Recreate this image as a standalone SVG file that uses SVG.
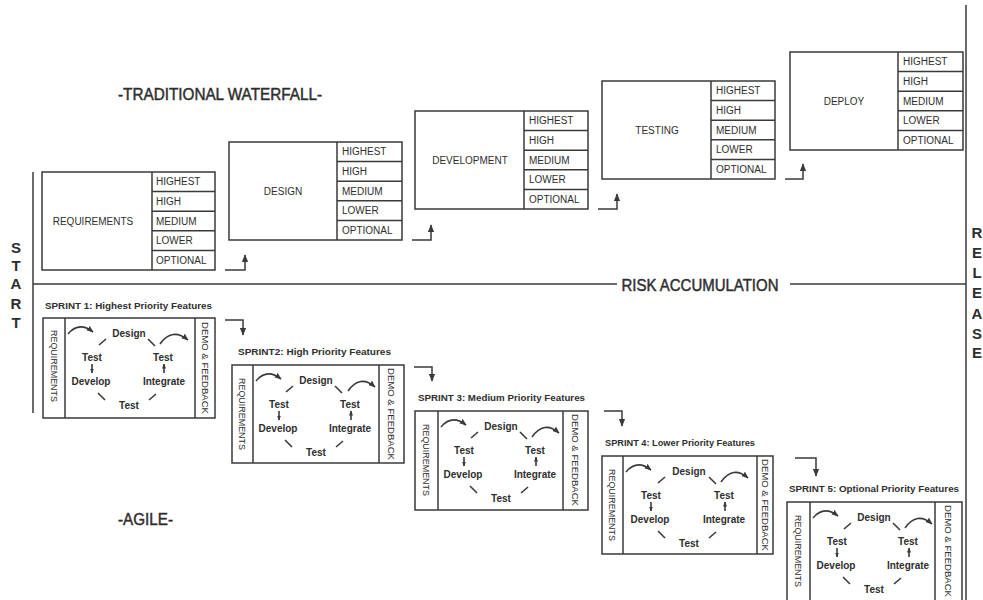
<svg xmlns="http://www.w3.org/2000/svg" width="983" height="600" viewBox="0 0 983 600">
<style>
.bg{fill:#ffffff}
.ln{fill:none;stroke:#3a3a3a;stroke-width:1.5}
.bx{fill:#ffffff;stroke:#3a3a3a;stroke-width:1.5}
.t{font-family:"Liberation Sans",Arial,sans-serif;fill:#2e2e2e}
.lab{font-size:10px}
.pr{font-size:10px}
.big{font-size:16px;stroke:#2e2e2e;stroke-width:0.45}
.sp{font-size:9px;font-weight:bold}
.st{font-size:10px;font-weight:bold;text-anchor:middle}
.vt{font-size:9px;text-anchor:middle}
.side{font-size:15px;font-weight:bold;text-anchor:middle}
.cn{fill:none;stroke:#3a3a3a;stroke-width:1.5}
.dash{fill:none;stroke:#3a3a3a;stroke-width:1.6}
</style>
<defs>
<marker id="ah" viewBox="0 0 10 10" refX="9" refY="5" markerWidth="8" markerHeight="8" markerUnits="userSpaceOnUse" orient="auto"><path d="M0,1 L10,5 L0,9 z" fill="#3a3a3a"/></marker>
<marker id="ahs" viewBox="0 0 10 10" refX="9" refY="5" markerWidth="7" markerHeight="7" markerUnits="userSpaceOnUse" orient="auto"><path d="M0,1 L10,5 L0,9 z" fill="#3a3a3a"/></marker>
<marker id="aht" viewBox="0 0 10 10" refX="9" refY="5" markerWidth="5" markerHeight="5" markerUnits="userSpaceOnUse" orient="auto"><path d="M0,1 L10,5 L0,9 z" fill="#3a3a3a"/></marker>
</defs>
<rect class="bg" x="0" y="0" width="983" height="600"/>

<g id="frame">
<line class="ln" x1="33" y1="172" x2="33" y2="413"/>
<line class="ln" x1="966" y1="5" x2="966" y2="600"/>
<line class="ln" x1="33" y1="284" x2="617" y2="284"/>
<line class="ln" x1="790" y1="284" x2="966" y2="284"/>
<text class="t big" x="700" y="291" text-anchor="middle" textLength="157" lengthAdjust="spacingAndGlyphs">RISK ACCUMULATION</text>
<text class="t big" x="118" y="100" textLength="204" lengthAdjust="spacingAndGlyphs">-TRADITIONAL WATERFALL-</text>
<text class="t big" x="118" y="525" textLength="55" lengthAdjust="spacingAndGlyphs">-AGILE-</text>
<g class="t side">
<text x="16" y="253">S</text>
<text x="16" y="271">T</text>
<text x="16" y="289">A</text>
<text x="16" y="309">R</text>
<text x="16" y="328">T</text>
<text x="977" y="238">R</text>
<text x="977" y="258">E</text>
<text x="977" y="278">L</text>
<text x="977" y="298">E</text>
<text x="977" y="319">A</text>
<text x="977" y="339">S</text>
<text x="977" y="358">E</text>
</g>
</g>

<g id="wf-requirements" transform="translate(42,172)">
<rect class="bx" x="0" y="0" width="173" height="98"/>
<line class="ln" x1="110" y1="0" x2="110" y2="98"/>
<line class="ln" x1="110" y1="19.6" x2="173" y2="19.6"/>
<line class="ln" x1="110" y1="39.2" x2="173" y2="39.2"/>
<line class="ln" x1="110" y1="58.8" x2="173" y2="58.8"/>
<line class="ln" x1="110" y1="78.4" x2="173" y2="78.4"/>
<text class="t lab" x="51" y="53" text-anchor="middle">REQUIREMENTS</text>
<text class="t pr" x="114" y="13.4">HIGHEST</text>
<text class="t pr" x="114" y="33">HIGH</text>
<text class="t pr" x="114" y="52.6">MEDIUM</text>
<text class="t pr" x="114" y="72.2">LOWER</text>
<text class="t pr" x="114" y="91.8">OPTIONAL</text>
</g>

<g id="wf-design" transform="translate(229,142)">
<rect class="bx" x="0" y="0" width="173" height="98"/>
<line class="ln" x1="108" y1="0" x2="108" y2="98"/>
<line class="ln" x1="108" y1="19.6" x2="173" y2="19.6"/>
<line class="ln" x1="108" y1="39.2" x2="173" y2="39.2"/>
<line class="ln" x1="108" y1="58.8" x2="173" y2="58.8"/>
<line class="ln" x1="108" y1="78.4" x2="173" y2="78.4"/>
<text class="t lab" x="54" y="53" text-anchor="middle">DESIGN</text>
<text class="t pr" x="113" y="13.4">HIGHEST</text>
<text class="t pr" x="113" y="33">HIGH</text>
<text class="t pr" x="113" y="52.6">MEDIUM</text>
<text class="t pr" x="113" y="72.2">LOWER</text>
<text class="t pr" x="113" y="91.8">OPTIONAL</text>
</g>

<g id="wf-development" transform="translate(415,111)">
<rect class="bx" x="0" y="0" width="173" height="98"/>
<line class="ln" x1="109" y1="0" x2="109" y2="98"/>
<line class="ln" x1="109" y1="19.6" x2="173" y2="19.6"/>
<line class="ln" x1="109" y1="39.2" x2="173" y2="39.2"/>
<line class="ln" x1="109" y1="58.8" x2="173" y2="58.8"/>
<line class="ln" x1="109" y1="78.4" x2="173" y2="78.4"/>
<text class="t lab" x="55" y="53" text-anchor="middle">DEVELOPMENT</text>
<text class="t pr" x="114" y="13.4">HIGHEST</text>
<text class="t pr" x="114" y="33">HIGH</text>
<text class="t pr" x="114" y="52.6">MEDIUM</text>
<text class="t pr" x="114" y="72.2">LOWER</text>
<text class="t pr" x="114" y="91.8">OPTIONAL</text>
</g>

<g id="wf-testing" transform="translate(602,81)">
<rect class="bx" x="0" y="0" width="173" height="98"/>
<line class="ln" x1="109" y1="0" x2="109" y2="98"/>
<line class="ln" x1="109" y1="19.6" x2="173" y2="19.6"/>
<line class="ln" x1="109" y1="39.2" x2="173" y2="39.2"/>
<line class="ln" x1="109" y1="58.8" x2="173" y2="58.8"/>
<line class="ln" x1="109" y1="78.4" x2="173" y2="78.4"/>
<text class="t lab" x="55" y="53" text-anchor="middle">TESTING</text>
<text class="t pr" x="114" y="13.4">HIGHEST</text>
<text class="t pr" x="114" y="33">HIGH</text>
<text class="t pr" x="114" y="52.6">MEDIUM</text>
<text class="t pr" x="114" y="72.2">LOWER</text>
<text class="t pr" x="114" y="91.8">OPTIONAL</text>
</g>

<g id="wf-deploy" transform="translate(790,52)">
<rect class="bx" x="0" y="0" width="173" height="98"/>
<line class="ln" x1="108" y1="0" x2="108" y2="98"/>
<line class="ln" x1="108" y1="19.6" x2="173" y2="19.6"/>
<line class="ln" x1="108" y1="39.2" x2="173" y2="39.2"/>
<line class="ln" x1="108" y1="58.8" x2="173" y2="58.8"/>
<line class="ln" x1="108" y1="78.4" x2="173" y2="78.4"/>
<text class="t lab" x="54" y="53" text-anchor="middle">DEPLOY</text>
<text class="t pr" x="113" y="13.4">HIGHEST</text>
<text class="t pr" x="113" y="33">HIGH</text>
<text class="t pr" x="113" y="52.6">MEDIUM</text>
<text class="t pr" x="113" y="72.2">LOWER</text>
<text class="t pr" x="113" y="91.8">OPTIONAL</text>
</g>

<g id="sprint1" transform="translate(43,318)">
<text class="t sp" x="2" y="-9" textLength="167" lengthAdjust="spacingAndGlyphs">SPRINT 1: Highest Priority Features</text>
<rect class="bx" x="0" y="0" width="172" height="100"/>
<line class="ln" x1="22" y1="0" x2="22" y2="100"/>
<line class="ln" x1="152" y1="0" x2="152" y2="100"/>
<text class="t vt" transform="translate(11,48) rotate(90)" y="3.3" textLength="72" lengthAdjust="spacingAndGlyphs">REQUIREMENTS</text>
<text class="t vt" transform="translate(162,50) rotate(90)" y="3.3" textLength="92" lengthAdjust="spacingAndGlyphs">DEMO &amp; FEEDBACK</text>
<path class="dash" d="M25,16 Q36,3 50,14" marker-end="url(#ahs)"/>
<path class="dash" d="M117,26 Q129,9 145,22" marker-end="url(#ahs)"/>
<text class="t st" x="86" y="19">Design</text>
<text class="t st" x="49" y="43">Test</text>
<text class="t st" x="120" y="43">Test</text>
<text class="t st" x="48" y="67">Develop</text>
<text class="t st" x="121" y="67">Integrate</text>
<text class="t st" x="86" y="91">Test</text>
<line class="dash" x1="56" y1="27" x2="63" y2="21"/>
<line class="dash" x1="105" y1="21" x2="112" y2="28"/>
<line class="dash" x1="55" y1="75" x2="62" y2="82"/>
<line class="dash" x1="106" y1="82" x2="113" y2="76"/>
<line class="dash" x1="49" y1="46" x2="49" y2="55" marker-end="url(#aht)"/>
<line class="dash" x1="121" y1="55" x2="121" y2="46" marker-end="url(#aht)"/>
</g>

<g id="sprint2" transform="translate(232,365)">
<text class="t sp" x="6" y="-10" textLength="153" lengthAdjust="spacingAndGlyphs">SPRINT2: High Priority Features</text>
<rect class="bx" x="0" y="0" width="172" height="98"/>
<line class="ln" x1="21" y1="0" x2="21" y2="98"/>
<line class="ln" x1="147" y1="0" x2="147" y2="98"/>
<text class="t vt" transform="translate(10.5,49) rotate(90)" y="3.3" textLength="72" lengthAdjust="spacingAndGlyphs">REQUIREMENTS</text>
<text class="t vt" transform="translate(159.5,49) rotate(90)" y="3.3" textLength="92" lengthAdjust="spacingAndGlyphs">DEMO &amp; FEEDBACK</text>
<path class="dash" d="M24,16 Q35,3 49,14" marker-end="url(#ahs)"/>
<path class="dash" d="M116,26 Q128,9 143,22" marker-end="url(#ahs)"/>
<text class="t st" x="84" y="19">Design</text>
<text class="t st" x="47" y="43">Test</text>
<text class="t st" x="118" y="43">Test</text>
<text class="t st" x="46" y="67">Develop</text>
<text class="t st" x="118" y="67">Integrate</text>
<text class="t st" x="84" y="91">Test</text>
<line class="dash" x1="54" y1="27" x2="61" y2="21"/>
<line class="dash" x1="103" y1="21" x2="110" y2="28"/>
<line class="dash" x1="53" y1="75" x2="60" y2="82"/>
<line class="dash" x1="104" y1="82" x2="111" y2="76"/>
<line class="dash" x1="47" y1="46" x2="47" y2="55" marker-end="url(#aht)"/>
<line class="dash" x1="119" y1="55" x2="119" y2="46" marker-end="url(#aht)"/>
</g>

<g id="sprint3" transform="translate(415,411)">
<text class="t sp" x="3" y="-10" textLength="167" lengthAdjust="spacingAndGlyphs">SPRINT 3: Medium Priority Features</text>
<rect class="bx" x="0" y="0" width="173" height="99"/>
<line class="ln" x1="23" y1="0" x2="23" y2="99"/>
<line class="ln" x1="148" y1="0" x2="148" y2="99"/>
<text class="t vt" transform="translate(11.5,49) rotate(90)" y="3.3" textLength="72" lengthAdjust="spacingAndGlyphs">REQUIREMENTS</text>
<text class="t vt" transform="translate(160.5,49) rotate(90)" y="3.3" textLength="92" lengthAdjust="spacingAndGlyphs">DEMO &amp; FEEDBACK</text>
<path class="dash" d="M26,16 Q37,3 51,14" marker-end="url(#ahs)"/>
<path class="dash" d="M117,26 Q129,9 144,22" marker-end="url(#ahs)"/>
<text class="t st" x="86" y="19">Design</text>
<text class="t st" x="49" y="43">Test</text>
<text class="t st" x="120" y="43">Test</text>
<text class="t st" x="48" y="67">Develop</text>
<text class="t st" x="120" y="67">Integrate</text>
<text class="t st" x="86" y="91">Test</text>
<line class="dash" x1="56" y1="27" x2="63" y2="21"/>
<line class="dash" x1="105" y1="21" x2="112" y2="28"/>
<line class="dash" x1="55" y1="75" x2="62" y2="82"/>
<line class="dash" x1="106" y1="82" x2="113" y2="76"/>
<line class="dash" x1="49" y1="46" x2="49" y2="55" marker-end="url(#aht)"/>
<line class="dash" x1="121" y1="55" x2="121" y2="46" marker-end="url(#aht)"/>
</g>

<g id="sprint4" transform="translate(602,456)">
<text class="t sp" x="3" y="-10" textLength="150" lengthAdjust="spacingAndGlyphs">SPRINT 4: Lower Priority Features</text>
<rect class="bx" x="0" y="0" width="171" height="98"/>
<line class="ln" x1="21" y1="0" x2="21" y2="98"/>
<line class="ln" x1="155" y1="0" x2="155" y2="98"/>
<text class="t vt" transform="translate(10.5,49) rotate(90)" y="3.3" textLength="72" lengthAdjust="spacingAndGlyphs">REQUIREMENTS</text>
<text class="t vt" transform="translate(163,49) rotate(90)" y="3.3" textLength="92" lengthAdjust="spacingAndGlyphs">DEMO &amp; FEEDBACK</text>
<path class="dash" d="M24,16 Q35,3 49,14" marker-end="url(#ahs)"/>
<path class="dash" d="M119,26 Q131,9 146,22" marker-end="url(#ahs)"/>
<text class="t st" x="87" y="19">Design</text>
<text class="t st" x="49" y="43">Test</text>
<text class="t st" x="122" y="43">Test</text>
<text class="t st" x="48" y="67">Develop</text>
<text class="t st" x="122" y="67">Integrate</text>
<text class="t st" x="87" y="91">Test</text>
<line class="dash" x1="56" y1="27" x2="63" y2="21"/>
<line class="dash" x1="107" y1="21" x2="114" y2="28"/>
<line class="dash" x1="56" y1="75" x2="63" y2="82"/>
<line class="dash" x1="107" y1="82" x2="114" y2="76"/>
<line class="dash" x1="49" y1="46" x2="49" y2="55" marker-end="url(#aht)"/>
<line class="dash" x1="123" y1="55" x2="123" y2="46" marker-end="url(#aht)"/>
</g>

<g id="sprint5" transform="translate(787,502)">
<text class="t sp" x="2" y="-10" textLength="170" lengthAdjust="spacingAndGlyphs">SPRINT 5: Optional Priority Features</text>
<rect class="bx" x="0" y="0" width="175" height="100"/>
<line class="ln" x1="23" y1="0" x2="23" y2="100"/>
<line class="ln" x1="148" y1="0" x2="148" y2="100"/>
<text class="t vt" transform="translate(11.5,49) rotate(90)" y="3.3" textLength="72" lengthAdjust="spacingAndGlyphs">REQUIREMENTS</text>
<text class="t vt" transform="translate(161.5,49) rotate(90)" y="3.3" textLength="92" lengthAdjust="spacingAndGlyphs">DEMO &amp; FEEDBACK</text>
<path class="dash" d="M26,16 Q37,3 51,14" marker-end="url(#ahs)"/>
<path class="dash" d="M118,26 Q130,9 145,22" marker-end="url(#ahs)"/>
<text class="t st" x="87" y="19">Design</text>
<text class="t st" x="50" y="43">Test</text>
<text class="t st" x="121" y="43">Test</text>
<text class="t st" x="49" y="67">Develop</text>
<text class="t st" x="121" y="67">Integrate</text>
<text class="t st" x="87" y="91">Test</text>
<line class="dash" x1="57" y1="27" x2="64" y2="21"/>
<line class="dash" x1="106" y1="21" x2="113" y2="28"/>
<line class="dash" x1="56" y1="75" x2="63" y2="82"/>
<line class="dash" x1="107" y1="82" x2="114" y2="76"/>
<line class="dash" x1="50" y1="46" x2="50" y2="55" marker-end="url(#aht)"/>
<line class="dash" x1="122" y1="55" x2="122" y2="46" marker-end="url(#aht)"/>
</g>

<g id="connectors">
<path class="cn" d="M225,270 H245 V255" marker-end="url(#ah)"/>
<path class="cn" d="M412,240 H431 V225" marker-end="url(#ah)"/>
<path class="cn" d="M598,209 H617 V194" marker-end="url(#ah)"/>
<path class="cn" d="M785,179 H803 V164" marker-end="url(#ah)"/>
<path class="cn" d="M225,320 H243 V335" marker-end="url(#ah)"/>
<path class="cn" d="M414,367 H432 V381" marker-end="url(#ah)"/>
<path class="cn" d="M604,411 H622 V426" marker-end="url(#ah)"/>
<path class="cn" d="M795,458 H816 V476" marker-end="url(#ah)"/>
</g>
</svg>
